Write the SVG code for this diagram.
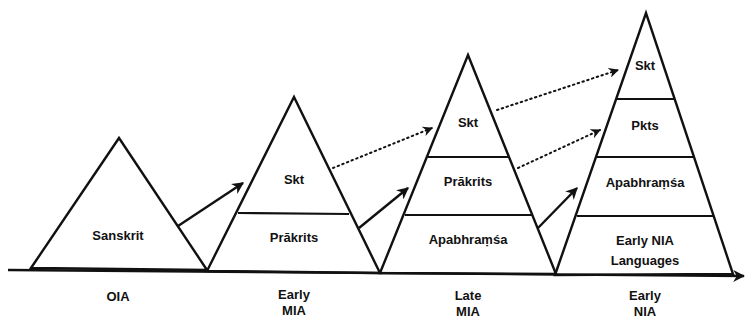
<svg xmlns="http://www.w3.org/2000/svg" width="749" height="322" viewBox="0 0 749 322">
<style>
.tri{fill:none;stroke:#111;stroke-width:2.4;stroke-linejoin:miter}
.div{stroke:#111;stroke-width:2.2}
.lbl{font-family:"Liberation Sans",Arial,sans-serif;font-weight:bold;font-size:13px;fill:#111;text-anchor:middle}
.arr{fill:none;stroke:#111;stroke-width:2.4}
.dot{fill:none;stroke:#111;stroke-width:2;stroke-dasharray:1.5 3.5;stroke-linecap:round}
</style>
<defs>
<marker id="ah" viewBox="0 0 10 10" refX="9" refY="5" markerWidth="5" markerHeight="5" orient="auto" markerUnits="strokeWidth">
<path d="M0,0 L10,5 L0,10 L3,5 z" fill="#111"/>
</marker>
</defs>
<g id="baseline">
<line x1="8" y1="270" x2="744" y2="276" class="arr" marker-end="url(#ah)"/>
</g>
<g id="oia">
<polygon class="tri" points="31,268 119,138 207,270"/>
<text class="lbl" x="118" y="240">Sanskrit</text>
<text class="lbl" x="118" y="301">OIA</text>
</g>
<g id="early-mia">
<polygon class="tri" points="207,271 294,97 380,273"/>
<line class="div" x1="238" y1="213" x2="349" y2="214"/>
<text class="lbl" x="294" y="184">Skt</text>
<text class="lbl" x="294" y="242">Prākrits</text>
<text class="lbl" x="294" y="299">Early</text>
<text class="lbl" x="294" y="315">MIA</text>
</g>
<g id="late-mia">
<polygon class="tri" points="380,273 468,55 556,274"/>
<line class="div" x1="428" y1="157" x2="508" y2="157"/>
<line class="div" x1="405" y1="215" x2="532" y2="215"/>
<text class="lbl" x="468" y="127">Skt</text>
<text class="lbl" x="468" y="186">Prākrits</text>
<text class="lbl" x="468" y="244">Apabhraṃśa</text>
<text class="lbl" x="468" y="300">Late</text>
<text class="lbl" x="468" y="316">MIA</text>
</g>
<g id="early-nia">
<polygon class="tri" points="555,275 646,13 733,274"/>
<line class="div" x1="617" y1="99" x2="675" y2="99"/>
<line class="div" x1="597" y1="157" x2="694" y2="157"/>
<line class="div" x1="577" y1="216" x2="713" y2="216"/>
<text class="lbl" x="645" y="70">Skt</text>
<text class="lbl" x="645" y="130">Pkts</text>
<text class="lbl" x="645" y="187">Apabhraṃśa</text>
<text class="lbl" x="645" y="245">Early NIA</text>
<text class="lbl" x="645" y="265">Languages</text>
<text class="lbl" x="645" y="300">Early</text>
<text class="lbl" x="645" y="316">NIA</text>
</g>
<g id="connectors">
<line class="arr" x1="178" y1="226" x2="243" y2="183" marker-end="url(#ah)"/>
<line class="arr" x1="359" y1="228" x2="408" y2="188" marker-end="url(#ah)"/>
<line class="arr" x1="538" y1="228" x2="577" y2="188" marker-end="url(#ah)"/>
<line class="dot" x1="333" y1="168" x2="432" y2="128" marker-end="url(#ah)"/>
<line class="dot" x1="497" y1="110" x2="618" y2="70" marker-end="url(#ah)"/>
<line class="dot" x1="518" y1="168" x2="600" y2="130" marker-end="url(#ah)"/>
</g>
</svg>
